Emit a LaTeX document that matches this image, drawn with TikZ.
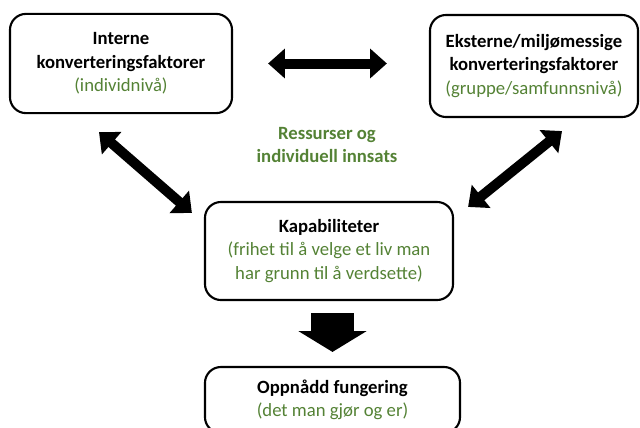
\documentclass[tikz,border=0pt]{standalone}
\usepackage{fontspec}
\setmainfont{Carlito}
\usetikzlibrary{arrows.meta}
\definecolor{textgreen}{RGB}{84,130,53}

\begin{document}
\begin{tikzpicture}[x=0.025cm,y=-0.025cm,line join=round,
  box/.style={draw,line width=1.5pt,rounded corners=0.4cm,align=center,
    inner sep=0pt,font=\fontsize{13.3}{16.8}\selectfont},
  dbl/.style={line width=0.25cm,
    {Triangle[length=0.42cm,width=0.72cm]}-{Triangle[length=0.42cm,width=0.72cm]}},
  down/.style={line width=1.05cm,-{Triangle[length=0.52cm,width=1.68cm]}}]
  \useasboundingbox (0,0) rectangle (640,428);
  \node[box,minimum width=5.55cm,minimum height=2.48cm] (intern) at (121,63.5)
    {\textbf{Interne}\\\textbf{konverteringsfaktorer}\\\textcolor{textgreen}{(individnivå)}};
  \node[box,minimum width=5.2cm,minimum height=2.55cm] (ekstern) at (534,66)
    {\textbf{Eksterne/miljømessige}\\\textbf{konverteringsfaktorer}\\\textcolor{textgreen}{(gruppe/samfunnsnivå)}};
  \node[box,minimum width=6.2cm,minimum height=2.45cm] (kapab) at (329,251)
    {\textbf{Kapabiliteter}\\\textcolor{textgreen}{(frihet til å velge et liv man}\\\textcolor{textgreen}{har grunn til å verdsette)}};
  \node[box,minimum width=6.375cm,minimum height=1.65cm] (fung) at (332.5,400)
    {\textbf{Oppnådd fungering}\\\textcolor{textgreen}{(det man gjør og er)}};
  \node[align=center,text=textgreen,font=\bfseries\fontsize{13.3}{16.8}\selectfont] (ress) at (327,145)
    {Ressurser og\\individuell innsats};
  % piler
  \draw[dbl,shorten <=0.875cm,shorten >=1.05cm] (intern.east) -- (intern.east -| ekstern.west);
  \draw[dbl] ([shift={(-22,18)}]intern.south) -- ([shift={(-12,12)}]kapab.north west);
  \draw[dbl] ([shift={(28,13)}]ekstern.south) -- ([shift={(14,6)}]kapab.north east);
  \draw[down,shorten <=0.3cm,shorten >=0.35cm] (fung.north |- kapab.south) -- (fung.north);
\end{tikzpicture}
\end{document}
